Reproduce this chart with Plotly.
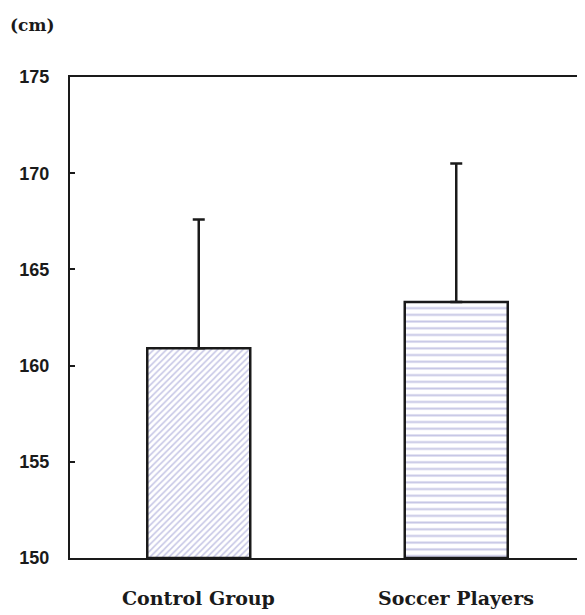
import plotly.graph_objects as go

categories = ["Control Group", "Soccer Players"]
means = [160.9, 163.3]
sds = [6.7, 7.2]
patterns = ["/", "-"]
y_ticks = [150, 155, 160, 165, 170, 175]

fig = go.Figure()
for i, cat in enumerate(categories):
    fig.add_trace(go.Bar(
        x=[cat], y=[means[i] - 150], base=150,
        width=0.4,
        marker=dict(
            color="white",
            line=dict(color="#1a1a1a", width=2.5),
            pattern=dict(shape=patterns[i], fgcolor="#8e8ecc", bgcolor="white",
                         size=4.5 if i == 0 else 6.7, solidity=0.35 if i == 0 else 0.3),
        ),
        error_y=dict(type="data", array=[sds[i]], arrayminus=[0], visible=True,
                     color="#1a1a1a", thickness=2.5, width=6),
        showlegend=False,
    ))

annotations = [dict(text="(cm)", xref="paper", yref="paper", x=-0.1204, y=1.108,
                    xanchor="left", yanchor="middle", showarrow=False,
                    font=dict(family="DejaVu Serif", size=17, color="#1a1a1a", weight="bold"))]
for cat in categories:
    annotations.append(dict(text=cat, xref="x", yref="paper", x=cat, y=-0.083,
                            xanchor="center", yanchor="middle", showarrow=False,
                            font=dict(family="DejaVu Serif", size=19, color="#1a1a1a",
                                      weight="bold")))

fig.update_layout(
    width=577, height=607,
    margin=dict(l=62, r=0, t=69, b=57),
    plot_bgcolor="white", paper_bgcolor="white",
    xaxis=dict(
        range=[-0.5, 1.5], showline=True, linecolor="#1a1a1a", linewidth=2,
        mirror=True, ticks="", showgrid=False, zeroline=False,
        showticklabels=False, automargin=False,
    ),
    yaxis=dict(
        range=[150, 175], tickvals=y_ticks, showline=True, linecolor="#1a1a1a",
        linewidth=2, ticks="inside", ticklen=5, tickwidth=1.5, tickcolor="#1a1a1a",
        showgrid=False, zeroline=False, automargin=False,
        tickfont=dict(family="Liberation Sans", size=18, color="#1a1a1a", weight="bold"),
        ticklabelstandoff=15,
    ),
    annotations=annotations,
)

fig.write_html("out.html")
